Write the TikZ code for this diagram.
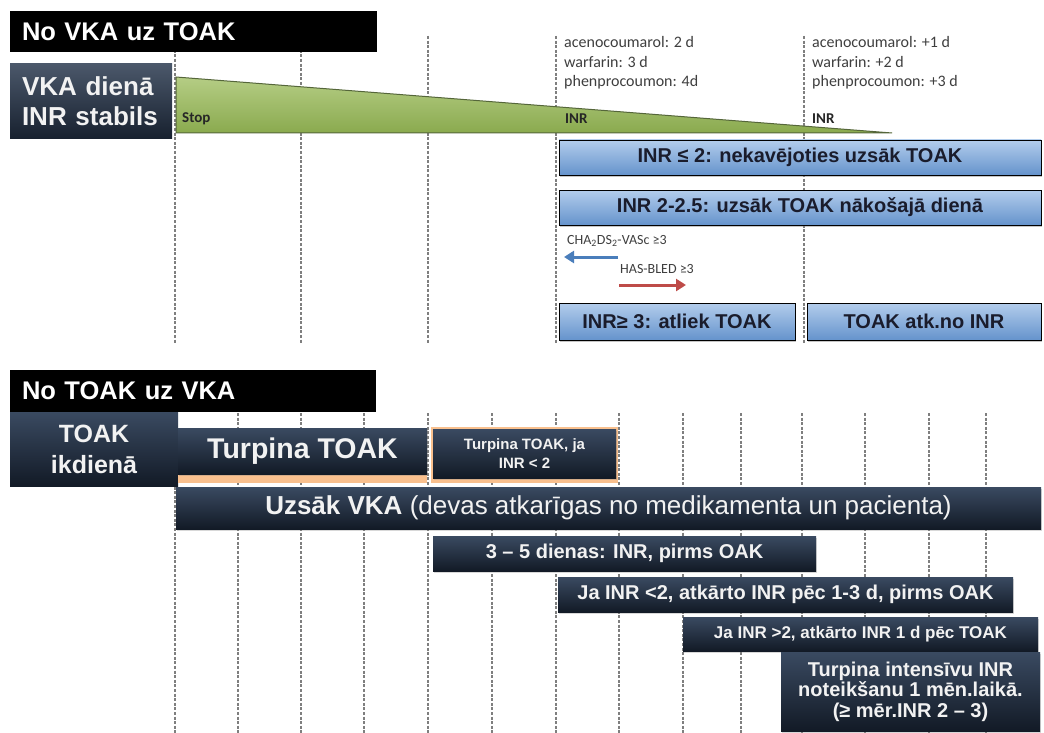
\documentclass[tikz,border=0pt]{standalone}
\usepackage{fontspec}
\setmainfont{Liberation Sans}
\newfontfamily\calib{Carlito}
\usetikzlibrary{arrows.meta,shadows}
\definecolor{navyA}{HTML}{3A4A61}
\definecolor{navyB}{HTML}{121A26}
\definecolor{navyT}{HTML}{2B3A50}
\definecolor{dashgray}{HTML}{7F7F7F}
\definecolor{greenA}{HTML}{B5CD85}
\definecolor{greenB}{HTML}{8AAA4E}
\definecolor{greenE}{HTML}{55663A}
\definecolor{blueA}{HTML}{B3CDEC}
\definecolor{blueB}{HTML}{6593CC}
\definecolor{blueT}{HTML}{1A1C2C}
\definecolor{peach}{HTML}{F9C08E}
\definecolor{arrblue}{HTML}{4A7EBB}
\definecolor{arrred}{HTML}{BE4B48}
\definecolor{smalltxt}{HTML}{3F3F3F}
\definecolor{lighttxt}{HTML}{F2F2F2}
\begin{document}
\begin{tikzpicture}[x=1pt,y=-1pt,
  dline/.style={draw=dashgray,line width=1.3pt,dash pattern=on 3pt off 1.6pt},
  hdrbox/.style={fill=black,text=white,inner xsep=12pt,inner ysep=0pt,align=left,
    font=\bfseries\fontsize{25.5}{30}\selectfont},
  navybox/.style={top color=navyA,bottom color=navyB,text=lighttxt,inner sep=0pt,
    font=\bfseries},
  bluebox/.style={top color=blueA,bottom color=blueB,draw=black,line width=0.8pt,
    text=blueT,inner sep=0pt,font=\bfseries\fontsize{20}{24}\selectfont,
    drop shadow={shadow xshift=1pt,shadow yshift=-2pt,opacity=0.45}},
  darkbox/.style={top color=navyA,bottom color=navyB,text=lighttxt,inner sep=0pt,
    font=\bfseries\fontsize{20}{24}\selectfont,
    drop shadow={shadow xshift=1pt,shadow yshift=-1.5pt,opacity=0.3}},
  drugtxt/.style={anchor=west,align=left,text=smalltxt,inner sep=0pt,
    font=\calib\fontsize{16}{19.5}\selectfont},
  marktxt/.style={anchor=west,inner sep=0pt,text=black!85,font=\calib\bfseries\fontsize{15}{18}\selectfont},
  arrlbl/.style={anchor=west,inner sep=0pt,text=smalltxt,font=\calib\fontsize{14}{16}\selectfont},
  arr/.style={line width=3pt,-{Triangle[length=10pt,width=12pt]}}
]
\useasboundingbox (0,0) rectangle (1044,733);
\fill[white] (0,0) rectangle (1044,733);

% ---------- top section: dashed lines ----------
\foreach \x in {175,301,428,556,804}{
  \draw[dline] (\x,36) -- (\x,344);
}

% ---------- header & start box ----------
\node[hdrbox,minimum width=367,minimum height=41,text width=343pt] (hdr1) at (193.5,31.5) {No VKA uz TOAK};
\node[navybox,top color=navyT!85!white,bottom color=navyB!80!navyT,minimum width=162,minimum height=75,
  text width=138pt,inner xsep=12pt,align=left,font=\bfseries\fontsize{26}{30}\selectfont] (vka) at (91,101.5) {VKA dienā\\INR stabils};

% ---------- green wedge ----------
\path[top color=greenA,bottom color=greenB,draw=greenE,line width=1pt]
  (176,77) -- (892,133) -- (176,133) -- cycle;
\node[marktxt] (stop) at (182,119) {Stop};
\node[marktxt] (inr1) at (565,119) {INR};
\node[marktxt] (inr2) at (812,119) {INR};

\node[drugtxt] (drugs1) at (564,63) {acenocoumarol: 2 d\\warfarin: 3 d\\phenprocoumon: 4d};
\node[drugtxt] (drugs2) at (812,63) {acenocoumarol: +1 d\\warfarin: +2 d\\phenprocoumon: +3 d};

% ---------- blue boxes ----------
\node[bluebox,minimum width=482,minimum height=35] (b1) at (800,157.5) {INR ≤ 2: nekavējoties uzsāk TOAK};
\node[bluebox,minimum width=482,minimum height=35] (b2) at (800,207.5) {INR 2-2.5: uzsāk TOAK nākošajā dienā};
\node[bluebox,minimum width=236,minimum height=37] (b3) at (677,321.5) {INR≥ 3: atliek TOAK};
\node[bluebox,minimum width=234,minimum height=37] (b4) at (924,321.5) {TOAK atk.no INR};

% ---------- arrows ----------
\node[arrlbl] (cha) at (567,241) {CHA\textsubscript{2}DS\textsubscript{2}-VASc ≥3};
\coordinate (chaS) at (618,257);
\coordinate (chaE) at (564,257);
\draw[arr,arrblue] (chaS) -- (chaE);
\node[arrlbl] (has) at (620,269) {HAS-BLED ≥3};
\coordinate (hasS) at (619,285);
\coordinate (hasE) at (686,285);
\draw[arr,arrred] (hasS) -- (hasE);

% ---------- bottom section: dashed lines ----------
\foreach \x in {175,238,301,364,428,492,556,619,683,741,802,865,929,986}{
  \draw[dline] (\x,413) -- (\x,733);
}

\node[hdrbox,minimum width=366,minimum height=42,text width=342pt] (hdr2) at (193,391) {No TOAK uz VKA};
\node[navybox,minimum width=168,minimum height=74,align=center,
  font=\bfseries\fontsize{25}{31}\selectfont] (toak) at (94,449) {TOAK\\ikdienā};

% Turpina TOAK with peach bar
\fill[peach] (178,468) rectangle (427,483);
\node[darkbox,minimum width=249,minimum height=46,font=\bfseries\fontsize{28.5}{32}\selectfont] (turp1) at (302.5,451) {Turpina TOAK};
% Turpina TOAK, ja INR < 2 with peach frame
\fill[peach] (431,427) rectangle (618,483);
\node[darkbox,minimum width=183,minimum height=49,align=center,
  font=\bfseries\fontsize{15}{19}\selectfont] (turp2) at (524.5,453.5) {Turpina TOAK, ja\\INR < 2};

\node[darkbox,minimum width=865,minimum height=42,font=\fontsize{26}{30}\selectfont] (uzsak) at (608.5,508)
  {\textbf{Uzsāk VKA} (devas atkarīgas no medikamenta un pacienta)};

\node[darkbox,minimum width=383,minimum height=35] (d35) at (624.5,553.5) {3 – 5 dienas: INR, pirms OAK};
\node[darkbox,minimum width=455,minimum height=35] (ja1) at (785.5,594.5) {Ja INR <2, atkārto INR pēc 1-3 d, pirms OAK};
\node[darkbox,minimum width=355,minimum height=34,font=\bfseries\fontsize{17}{20}\selectfont] (ja2) at (860.5,634) {Ja INR >2, atkārto INR 1 d pēc TOAK};
\node[darkbox,minimum width=259,minimum height=79,align=center,
  font=\bfseries\fontsize{20}{20.5}\selectfont] (turp3) at (910.5,691.5)
  {Turpina intensīvu INR\\noteikšanu 1 mēn.laikā.\\(≥ mēr.INR 2 – 3)};
\end{tikzpicture}
\end{document}
